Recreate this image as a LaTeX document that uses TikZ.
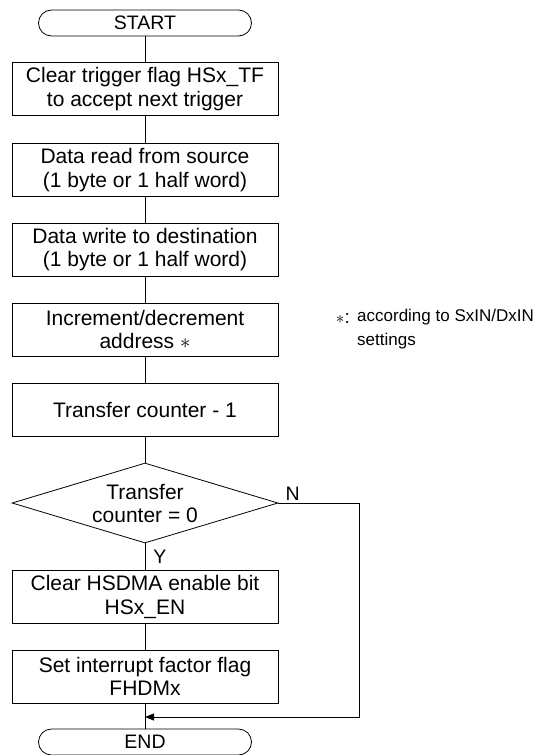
\documentclass[tikz,border=0pt]{standalone}
\usepackage{fontspec}
\setmainfont{Liberation Sans}
\usepackage{tikz}
\usetikzlibrary{arrows.meta, positioning, shapes.geometric}

\tikzset{
  procbox/.style={draw, line width=0.8pt, minimum width=266pt, minimum height=53pt,
    inner sep=2pt, align=center, font=\fontsize{21}{23.5}\selectfont},
  termbox/.style={draw, line width=0.8pt, rounded corners=13pt, minimum width=213pt,
    minimum height=26pt, inner sep=0pt, font=\fontsize{19.5}{22}\selectfont},
  decbox/.style={draw, line width=0.8pt, shape=diamond, aspect=3.3, inner sep=0pt,
    minimum width=266pt, minimum height=80pt, align=center,
    font=\fontsize{21}{23}\selectfont},
  flowline/.style={line width=0.8pt},
  lbl/.style={font=\fontsize{19.5}{22}\selectfont, inner sep=2pt}
}

\begin{document}
\begin{tikzpicture}
    \useasboundingbox (0,0) rectangle (539pt,-755pt);
    % main column
    \node[termbox] (start) at (145pt,-23pt) {START};
    \node[procbox] (clrtf) at (145pt,-89pt) {Clear trigger flag HSx\_TF\\to accept next trigger};
    \node[procbox] (rdsrc) at (145pt,-170pt) {Data read from source\\(1 byte or 1 half word)};
    \node[procbox] (wrdst) at (145pt,-249.5pt) {Data write to destination\\(1 byte or 1 half word)};
    \node[procbox] (incadr) at (145pt,-329.5pt) {Increment/decrement\\address $\ast$};
    \node[procbox] (deccnt) at (145pt,-409.5pt) {Transfer counter - 1};
    \node[decbox] (iszero) at (145pt,-503pt) {Transfer\\counter = 0};
    \node[procbox] (clren) at (145pt,-597pt) {Clear HSDMA enable bit\\HSx\_EN};
    \node[procbox] (setflg) at (145pt,-676.5pt) {Set interrupt factor flag\\FHDMx};
    \node[termbox] (finish) at (145pt,-742pt) {END};

    % note
    \node[anchor=west, inner sep=0pt, align=left,
          font=\fontsize{17}{24}\selectfont]
      (notetext) at (357pt,-329pt) {according to SxIN/DxIN\\settings};
    \node[anchor=east, inner sep=0pt, font=\fontsize{19}{22}\selectfont]
      (notemark) at (350pt,-318pt) {$\ast$:};

    % connectors
    \coordinate (merge) at (145pt,-717pt);
    \coordinate (loopcorner) at (359pt,-717pt);
    \draw[flowline] (start) -- (clrtf);
    \draw[flowline] (clrtf) -- (rdsrc);
    \draw[flowline] (rdsrc) -- (wrdst);
    \draw[flowline] (wrdst) -- (incadr);
    \draw[flowline] (incadr) -- (deccnt);
    \draw[flowline] (deccnt) -- (iszero);
    \draw[flowline] (iszero.south) -- node[lbl, right=6pt] {Y} (clren);
    \draw[flowline] (clren) -- (setflg);
    \draw[flowline] (setflg) -- (finish);
    \draw[flowline, -{Triangle[length=9pt,width=7pt]}]
      (iszero.east) -| (loopcorner) -- (merge);
    \node[lbl, anchor=south west] (nolbl) at ([xshift=5pt]iszero.east) {N};
  \end{tikzpicture}
\end{document}
